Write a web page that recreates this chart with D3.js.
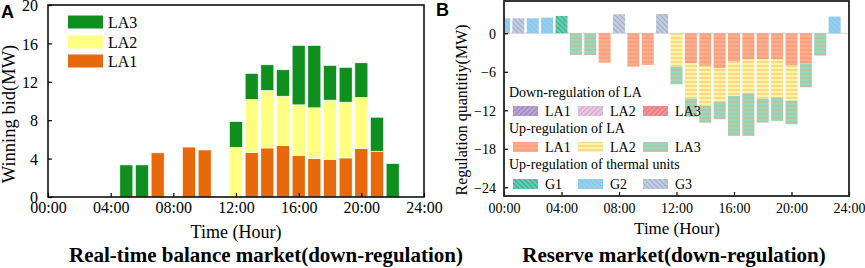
<!DOCTYPE html>
<html><head><meta charset="utf-8">
<script src="https://cdn.jsdelivr.net/npm/d3@7/dist/d3.min.js"></script>
<style>body{margin:0;background:#fff}svg{display:block}</style></head>
<body>
<svg id="c" width="865" height="268"></svg>
<script>
// ---------- DATA ----------
const hours   = [0,1,2,3,4,5,6,7,8,9,10,11,12,13,14,15,16,17,18,19,20,21,22,23];
const xTickHours = [0,4,8,12,16,20,24];
const xTickLabels = ["00:00","04:00","08:00","12:00","16:00","20:00","24:00"];
const yTicksA = [0,4,8,12,16,20];
const yTicksB = [0,-6,-12,-18,-24];

// Panel A: winning bid (MW), stacked LA1 / LA2 / LA3
const bidLA1 = [0,0,0,0,0,0,0,4.6,0,5.2,4.9,0,0,4.63,5.11,5.36,4.35,4.03,3.93,4.07,5.04,4.77,0,0];
const bidLA2 = [0,0,0,0,0,0,0,0,0,0,0,0,5.18,5.53,5.99,5.14,5.25,5.26,6.16,5.81,5.33,0,0,0];
const bidLA3 = [0,0,0,0,0,3.34,3.34,0,0,0,0,0,2.68,2.71,2.67,2.75,6.19,6.5,3.61,3.62,3.61,3.54,3.48,0];

// Panel B: reserve market, up-regulation of LA (drawn downward)
const upLA1 = [0,0,0,0,0,0,0,4.57,0,5.19,4.94,0,0,4.68,5.09,5.45,4.42,4.1,4.05,4.1,5.04,4.73,0,0];
const upLA2 = [0,0,0,0,0,0,0,0,0,0,0,0,5.19,5.55,6.23,5.2,5.35,5.25,6.18,5.87,5.45,0,0,0];
const upLA3 = [0,0,0,0,0,3.38,3.38,0,0,0,0,0,2.76,2.76,2.6,2.75,6.23,6.65,3.69,3.69,3.69,3.69,3.48,0];
// up-regulation of thermal units (drawn upward)
const thG1 = [0,0,0,0,2.7,0,0,0,0,0,0,0,0,0,0,0,0,0,0,0,0,0,0,0];
const thG2 = [2.34,0,2.34,2.44,0,0,0,0,0,0,0,0,0,0,0,0,0,0,0,0,0,0,0,2.6];
const thG3 = [0,2.34,0,0,0,0,0,0,2.96,0,0,3.0,0,0,0,0,0,0,0,0,0,0,0,0];

const legendA = ["LA3","LA2","LA1"];
const legendB = [
  {title:"Down-regulation of LA", items:["LA1","LA2","LA3"], pats:["dn1","dn2","dn3"]},
  {title:"Up-regulation of LA", items:["LA1","LA2","LA3"], pats:["up1","up2","up3"]},
  {title:"Up-regulation of thermal units", items:["G1","G2","G3"], pats:["g1","g2","g3"]}
];

// ---------- STYLE ----------
const SERIF = "'Liberation Serif','Times New Roman',serif";
const SANS = "'Liberation Sans',Arial,sans-serif";
const colA = {LA1:"#e8680c", LA2:"#ffff82", LA3:"#0f8f1e"};

const svg = d3.select("#c");
svg.append("rect").attr("width",865).attr("height",268).attr("fill","#fff");

// patterns
const defs = svg.append("defs");
function pattern(id, bg, line, type, size){
  const p = defs.append("pattern").attr("id",id).attr("patternUnits","userSpaceOnUse")
    .attr("width",size).attr("height",size);
  p.append("rect").attr("width",size).attr("height",size).attr("fill",bg);
  let d;
  const s=size;
  if(type==="h") d=`M0,${s/2} H${s}`;
  else if(type==="b") d=`M0,0 L${s},${s} M${-s/2},${s/2} L${s/2},${s*1.5} M${s/2},${-s/2} L${s*1.5},${s/2}`;
  else d=`M0,${s} L${s},0 M${-s/2},${s/2} L${s/2},${-s/2} M${s/2},${s*1.5} L${s*1.5},${s/2}`;
  p.append("path").attr("d",d).attr("stroke",line).attr("stroke-width",type==="h"?0.9:1.1).attr("fill","none");
}
pattern("up1","#fdad8b","#f08d6e","h",4);
pattern("up2","#fdf59c","#e9b57c","h",4);
pattern("up3","#93dbb9","#e0a38f","h",4);
pattern("g1","#62cdb0","#3fa891","b",5);
pattern("g2","#88d4f3","#a8b8e2","b",5);
pattern("g3","#c3cde2","#a2aac6","b",5);
pattern("dn1","#b9a3d6","#9c84c0","f",5);
pattern("dn2","#e8c6e2","#d3a8cc","f",5);
pattern("dn3","#f8919a","#e8747e","f",5);

// ---------- PANEL A ----------
const xA = d3.scaleLinear().domain([0,24]).range([48,424]);
const yA = d3.scaleLinear().domain([0,20]).range([197,5]);
const bwA = 13;
const gA = svg.append("g");

const stackA = hours.map((h,i)=>({h, LA1:bidLA1[i], LA2:bidLA2[i], LA3:bidLA3[i]}));
const serA = d3.stack().keys(["LA1","LA2","LA3"])(stackA);
serA.forEach(s=>{
  gA.append("g").selectAll("rect").data(s.filter(d=>d[1]-d[0]>0)).join("rect")
    .attr("x",d=>xA(d.data.h)-bwA/2).attr("width",bwA)
    .attr("y",d=>yA(d[1])).attr("height",d=>yA(d[0])-yA(d[1]))
    .attr("fill",colA[s.key]).attr("stroke","#fff").attr("stroke-width",0.6);
});

// axes A
const axA = gA.append("g").attr("transform","translate(0,197)")
  .call(d3.axisBottom(xA).tickValues(xTickHours).tickFormat((d,i)=>xTickLabels[i]).tickSizeInner(-4).tickSizeOuter(0));
axA.selectAll("text").attr("y",16).attr("dy",0).style("font-family",SERIF).style("font-size","16px").attr("fill","#000");
const ayA = gA.append("g").attr("transform","translate(48,0)")
  .call(d3.axisLeft(yA).tickValues(yTicksA).tickSizeInner(-4).tickSizeOuter(0).tickPadding(10));
ayA.selectAll("text").attr("dy","0.35em").style("font-family",SERIF).style("font-size","16px").attr("fill","#000");
[axA,ayA].forEach(a=>{a.select(".domain").remove(); a.selectAll("line").attr("stroke","#000").attr("stroke-width",1.2);});
gA.append("rect").attr("x",48).attr("y",5).attr("width",376).attr("height",192)
  .attr("fill","none").attr("stroke","#000").attr("stroke-width",1.5);

// legend A
legendA.forEach((k,i)=>{
  const cy=[22,42,61][i];
  gA.append("rect").attr("x",68).attr("y",cy-6.5).attr("width",35).attr("height",13).attr("fill",colA[k]);
  gA.append("text").attr("x",108).attr("y",cy+5.5).text(k)
    .style("font-family",SERIF).style("font-size","16px");
});

// labels A
gA.append("text").attr("transform","translate(15,114) rotate(-90)").attr("text-anchor","middle")
  .text("Winning bid(MW)").style("font-family",SERIF).style("font-size","18.5px");
gA.append("text").attr("x",236).attr("y",238).attr("text-anchor","middle")
  .text("Time (Hour)").style("font-family",SERIF).style("font-size","18px");
gA.append("text").attr("x",266).attr("y",262).attr("text-anchor","middle")
  .text("Real-time balance market(down-regulation)").style("font-family",SERIF).style("font-size","21px").style("font-weight","bold");
gA.append("text").attr("x",1).attr("y",18).text("A")
  .style("font-family",SANS).style("font-size","18px").style("font-weight","bold");

// ---------- PANEL B ----------
const xB = d3.scaleLinear().domain([0,24]).range([504,849]);
const yB = d3.scaleLinear().domain([-25.36,5.03]).range([196,1]);
const bwB = 12;
const gB = svg.append("g");
defs.append("clipPath").attr("id","clipB").append("rect").attr("x",504).attr("y",1).attr("width",345).attr("height",195);
const plotB = gB.append("g").attr("clip-path","url(#clipB)");

// zero line
plotB.append("line").attr("x1",504).attr("x2",849).attr("y1",yB(0)).attr("y2",yB(0))
  .attr("stroke","#d8d8d8").attr("stroke-width",1);

// thermal units (up)
const thermals=[["g1",thG1],["g2",thG2],["g3",thG3]];
thermals.forEach(([p,arr])=>{
  plotB.append("g").selectAll("rect").data(hours.filter((h,i)=>arr[i]>0)).join("rect")
    .attr("x",h=>xB(h)-bwB/2).attr("width",bwB)
    .attr("y",h=>yB(arr[h])).attr("height",h=>yB(0)-yB(arr[h]))
    .attr("fill",`url(#${p})`);
});
// LA up-regulation stacked downward
const stackB = hours.map((h,i)=>({h, up1:upLA1[i], up2:upLA2[i], up3:upLA3[i]}));
const serB = d3.stack().keys(["up1","up2","up3"])(stackB);
serB.forEach(s=>{
  plotB.append("g").selectAll("rect").data(s.filter(d=>d[1]-d[0]>0)).join("rect")
    .attr("x",d=>xB(d.data.h)-bwB/2).attr("width",bwB)
    .attr("y",d=>yB(-d[0])).attr("height",d=>yB(-d[1])-yB(-d[0]))
    .attr("fill",`url(#${s.key})`);
});

const axB = gB.append("g").attr("transform","translate(0,196)")
  .call(d3.axisBottom(xB).tickValues(xTickHours).tickFormat((d,i)=>xTickLabels[i]).tickSizeInner(-4).tickSizeOuter(0));
axB.selectAll("text").attr("y",17).attr("dy",0).style("font-family",SERIF).style("font-size","14px").attr("fill","#000");
const ayB = gB.append("g").attr("transform","translate(504,0)")
  .call(d3.axisLeft(yB).tickValues(yTicksB).tickSizeInner(-4).tickSizeOuter(0).tickPadding(8));
ayB.selectAll("text").attr("dy","0.35em").style("font-family",SERIF).style("font-size","14px").attr("fill","#000");
[axB,ayB].forEach(a=>{a.select(".domain").remove(); a.selectAll("line").attr("stroke","#000").attr("stroke-width",1.2);});
gB.append("rect").attr("x",504).attr("y",1).attr("width",345).attr("height",195)
  .attr("fill","none").attr("stroke","#222").attr("stroke-width",1.8);

// legend B
const titleY=[97,133,169], rowY=[111,147,184];
const itemX=[513,578,643];
legendB.forEach((grp,gi)=>{
  gB.append("text").attr("x",509).attr("y",titleY[gi]).text(grp.title)
    .style("font-family",SERIF).style("font-size","14px");
  grp.items.forEach((it,j)=>{
    gB.append("rect").attr("x",itemX[j]).attr("y",rowY[gi]-5).attr("width",25).attr("height",10)
      .attr("fill",`url(#${grp.pats[j]})`);
    gB.append("text").attr("x",itemX[j]+32).attr("y",rowY[gi]+5).text(it)
      .style("font-family",SERIF).style("font-size","14px");
  });
});

gB.append("text").attr("transform","translate(467,110) rotate(-90)").attr("text-anchor","middle")
  .text("Regulation quantitiy(MW)").style("font-family",SERIF).style("font-size","16px");
gB.append("text").attr("x",677).attr("y",234).attr("text-anchor","middle")
  .text("Time (Hour)").style("font-family",SERIF).style("font-size","17px");
gB.append("text").attr("x",674).attr("y",262).attr("text-anchor","middle")
  .text("Reserve market(down-regulation)").style("font-family",SERIF).style("font-size","21px").style("font-weight","bold");
gB.append("text").attr("x",436).attr("y",16).text("B")
  .style("font-family",SANS).style("font-size","18px").style("font-weight","bold");
</script>
</body></html>
